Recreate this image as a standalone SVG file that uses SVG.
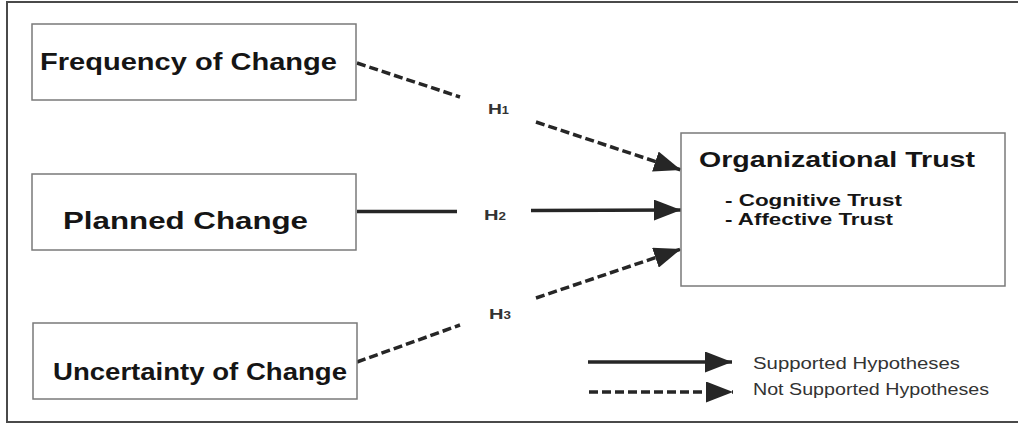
<svg xmlns="http://www.w3.org/2000/svg" width="1018" height="425" viewBox="0 0 1018 425">
<defs>
<marker id="arr" markerUnits="userSpaceOnUse" markerWidth="27" markerHeight="21" refX="27" refY="10.5" orient="auto" viewBox="0 0 27 21">
<path d="M0,0 L27,10.5 L0,21 z" fill="#262626"/>
</marker>
<style>
.frame{fill:none;stroke:#4a4a4a;stroke-width:2}
.box{fill:#fff;stroke:#7a7a7a;stroke-width:1.5}
.t{font-family:"Liberation Sans",Arial,sans-serif;font-weight:bold;fill:#151515}
.h{font-family:"Liberation Sans",Arial,sans-serif;font-weight:bold;fill:#333;font-size:15px}
.leg{font-family:"Liberation Sans",Arial,sans-serif;fill:#333;font-size:16px}
.solid{fill:none;stroke:#262626;stroke-width:3.5}
.dash{fill:none;stroke:#262626;stroke-width:3.5;stroke-dasharray:9 4}
</style>
</defs>
<rect width="1018" height="425" fill="#fff"/>
<rect class="frame" x="7" y="2" width="1020" height="420"/>
<g id="connectors">
<line class="dash" x1="357" y1="63" x2="460" y2="97"/>
<line class="dash" x1="536" y1="122" x2="681" y2="170" marker-end="url(#arr)"/>
<line class="solid" x1="357" y1="211.5" x2="457" y2="211.5"/>
<line class="solid" x1="531" y1="210.5" x2="681" y2="210" marker-end="url(#arr)"/>
<line class="dash" x1="357" y1="362" x2="460" y2="325"/>
<line class="dash" x1="536" y1="298" x2="681" y2="249" marker-end="url(#arr)"/>
<text class="h" x="488" y="114" textLength="21" lengthAdjust="spacingAndGlyphs">H<tspan font-size="10">1</tspan></text>
<text class="h" x="484" y="220" textLength="22" lengthAdjust="spacingAndGlyphs">H<tspan font-size="10">2</tspan></text>
<text class="h" x="489" y="319" textLength="22" lengthAdjust="spacingAndGlyphs">H<tspan font-size="10">3</tspan></text>
</g>
<g id="freq">
<rect class="box" x="32" y="24" width="324" height="76"/>
<text class="t" x="40" y="70" font-size="24" textLength="297" lengthAdjust="spacingAndGlyphs">Frequency of Change</text>
</g>
<g id="planned">
<rect class="box" x="32" y="174" width="324" height="76"/>
<text class="t" x="63" y="229" font-size="24" textLength="245" lengthAdjust="spacingAndGlyphs">Planned Change</text>
</g>
<g id="uncert">
<rect class="box" x="33" y="323" width="324" height="76"/>
<text class="t" x="53" y="380" font-size="24" textLength="294" lengthAdjust="spacingAndGlyphs">Uncertainty of Change</text>
</g>
<g id="trust">
<rect class="box" x="681" y="133" width="324" height="153"/>
<text class="t" x="699" y="167" font-size="22" textLength="276" lengthAdjust="spacingAndGlyphs">Organizational Trust</text>
<text class="t" x="725" y="206" font-size="17" textLength="177" lengthAdjust="spacingAndGlyphs">- Cognitive Trust</text>
<text class="t" x="725" y="225" font-size="17" textLength="168" lengthAdjust="spacingAndGlyphs">- Affective Trust</text>
</g>
<g id="legend">
<line class="solid" x1="588" y1="362" x2="732" y2="362" marker-end="url(#arr)"/>
<line class="dash" x1="589" y1="392" x2="733" y2="392" marker-end="url(#arr)"/>
<text class="leg" x="753" y="369" textLength="207" lengthAdjust="spacingAndGlyphs">Supported Hypotheses</text>
<text class="leg" x="753" y="395" textLength="236" lengthAdjust="spacingAndGlyphs">Not Supported Hypotheses</text>
</g>
</svg>
